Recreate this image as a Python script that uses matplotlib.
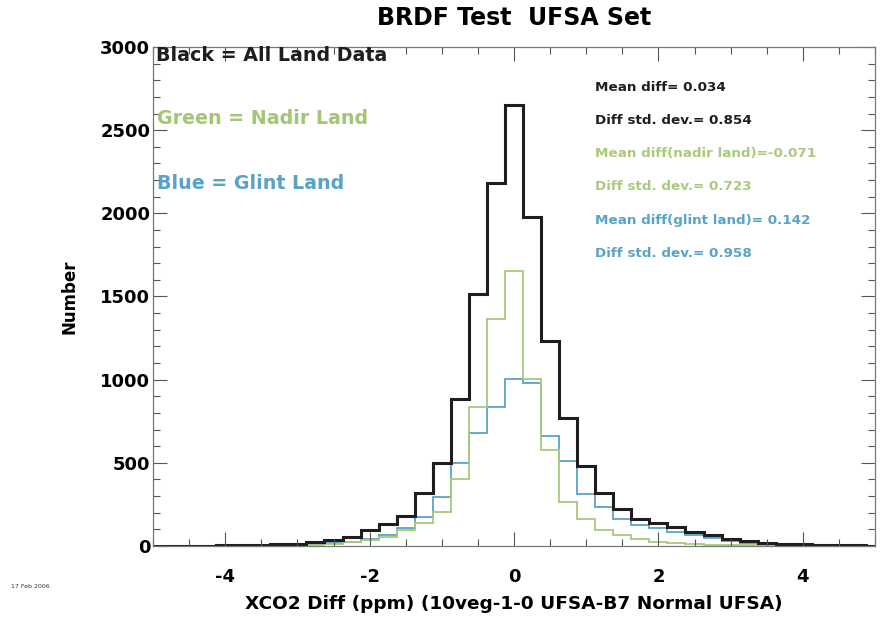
import numpy as np
import matplotlib
matplotlib.use("Agg")
import matplotlib.pyplot as plt
from matplotlib.ticker import MultipleLocator

plt.rcParams['font.family'] = ['DejaVu Sans']
plt.rcParams['axes.unicode_minus'] = False

# bin centres (ppm), 0.25 wide
centros = np.arange(-5.0, 5.0001, 0.25)

todos = [0, 0, 1, 2, 3, 4, 6, 9, 14, 22, 34, 56, 96, 135, 178, 317, 500, 885, 1515, 2185,
         2650,
         1980, 1235, 772, 480, 317, 220, 162, 140, 112, 84, 65, 40, 28, 20, 14, 10, 7, 5, 3, 2]
nadir = [0, 0, 0, 1, 1, 2, 2, 3, 5, 8, 13, 21, 35, 56, 95, 140, 206, 402, 838, 1362,
         1655,
         1005, 577, 266, 165, 96, 66, 40, 26, 16, 10, 7, 5, 4, 3, 3, 2, 2, 1, 1, 1]
glint = [0, 0, 0, 1, 1, 2, 3, 4, 6, 9, 15, 24, 40, 66, 106, 176, 297, 497, 680, 836,
         1005,
         978, 664, 512, 315, 232, 162, 126, 106, 86, 66, 46, 30, 20, 14, 10, 7, 5, 3, 2, 1]

estatisticas = [
    ("Mean diff= 0.034", "black"),
    ("Diff std. dev.= 0.854", "black"),
    ("Mean diff(nadir land)=-0.071", "nadir"),
    ("Diff std. dev.= 0.723", "nadir"),
    ("Mean diff(glint land)= 0.142", "glint"),
    ("Diff std. dev.= 0.958", "glint"),
]

cores = {"black": "#1e1e1e", "nadir": "#a9c97c", "glint": "#58a4c6"}

bordas = np.append(centros - 0.125, centros[-1] + 0.125)

fig = plt.figure(figsize=(8.81, 6.20), dpi=100)
ax = fig.add_axes([0.1737, 0.1194, 0.8195, 0.8048])

ax.stairs(glint, bordas, color=cores["glint"], linewidth=1.3)
ax.stairs(nadir, bordas, color=cores["nadir"], linewidth=1.3)
ax.stairs(todos, bordas, color=cores["black"], linewidth=2.2)

ax.set_xlim(-5, 5)
ax.set_ylim(0, 3000)
ax.xaxis.set_major_locator(MultipleLocator(2))
ax.xaxis.set_minor_locator(MultipleLocator(0.5))
ax.yaxis.set_major_locator(MultipleLocator(500))
ax.yaxis.set_minor_locator(MultipleLocator(100))
ax.tick_params(which='both', direction='in', top=True, right=True, color='#555555', width=0.8)
ax.tick_params(which='major', length=10)
ax.tick_params(which='minor', length=5)
ax.tick_params(axis='x', which='major', pad=16)
ax.tick_params(axis='y', which='major', pad=2)
for rotulo in ax.get_xticklabels() + ax.get_yticklabels():
    rotulo.set_fontsize(13)
    rotulo.set_fontweight('bold')
for lado in ax.spines.values():
    lado.set_color('#777777')
    lado.set_linewidth(0.9)

ax.set_title('BRDF Test  UFSA Set', fontsize=17, fontweight='bold', pad=16)
ax.set_xlabel('XCO2 Diff (ppm) (10veg-1-0 UFSA-B7 Normal UFSA)', fontsize=13.3,
              fontweight='bold', labelpad=6)
ax.set_ylabel('Number', fontsize=12, fontweight='bold', labelpad=16)

# legend written as text in the corner
ax.text(0.004, 0.983, 'Black = All Land Data', transform=ax.transAxes, fontsize=13.7,
        fontweight='bold', color=cores["black"], va='center')
ax.text(0.006, 0.857, 'Green = Nadir Land', transform=ax.transAxes, fontsize=13.7,
        fontweight='bold', color='#a3c575', va='center')
ax.text(0.006, 0.727, 'Blue = Glint Land', transform=ax.transAxes, fontsize=13.7,
        fontweight='bold', color='#58a3c6', va='center')

y0 = 0.919
for i, (texto, chave) in enumerate(estatisticas):
    ax.text(0.612, y0 - i * 0.0665, texto, transform=ax.transAxes, fontsize=9.7,
            fontweight='bold', color=cores[chave], va='center')

fig.text(0.012, 0.052, '17 Feb 2006', fontsize=4.5, color='#333333')

fig.savefig('out.png', dpi=100)
